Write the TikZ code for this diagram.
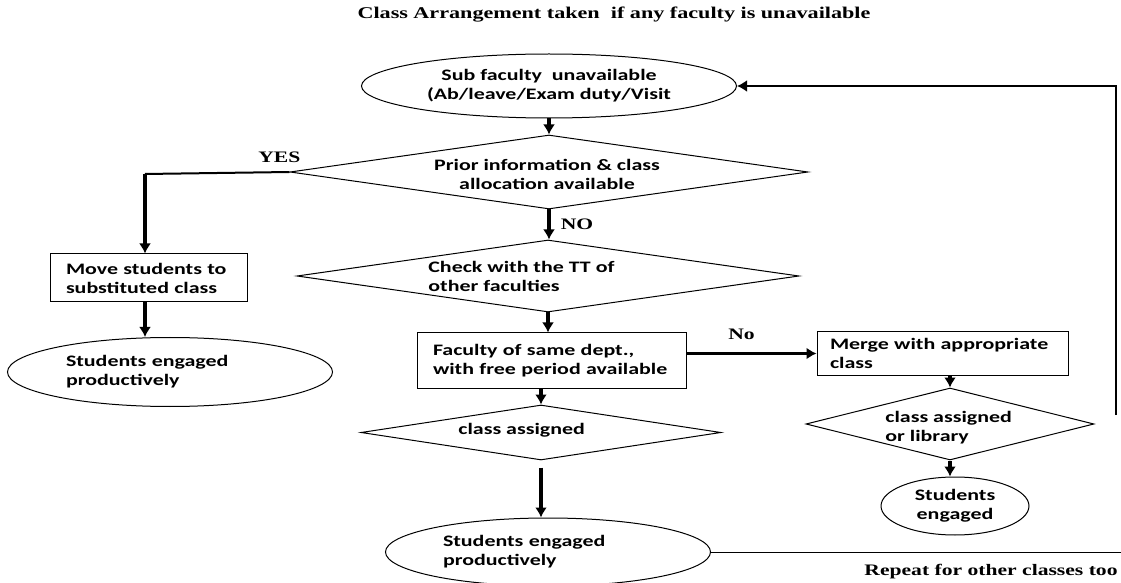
\documentclass[tikz,border=0pt]{standalone}
\usepackage{fontspec}
\setmainfont{Liberation Serif}[FakeStretch=1.35]
\newfontfamily\cajafont{Carlito}[FakeStretch=1.37]
\usetikzlibrary{shapes.geometric,arrows.meta}

\begin{document}
\begin{tikzpicture}[x=0.5pt,y=-0.5pt,
  >={Latex[length=5pt,width=6pt]},
  caja/.style={draw,line width=0.5pt,inner xsep=8pt,inner ysep=0pt,align=left,
    font=\cajafont\bfseries\fontsize{8}{9.5}\selectfont},
  elipse/.style={draw,ellipse,line width=0.5pt,inner sep=0pt,
    font=\cajafont\bfseries\fontsize{8}{9.5}\selectfont},
  rombo/.style={draw,diamond,line width=0.5pt,inner sep=0pt},
  texto/.style={inner sep=0pt,align=left,font=\cajafont\bfseries\fontsize{8}{9.5}\selectfont},
  nota/.style={inner sep=0pt,font=\bfseries\fontsize{8}{9}\selectfont},
  flecha/.style={->,line width=1.8pt}
  ]
  \useasboundingbox (0,0) rectangle (1121,583);

  \node[nota,font=\bfseries\fontsize{8.2}{9}\selectfont] (titulo) at (614,15)
    {Class Arrangement taken\ \ if any faculty is unavailable};

  % columna central
  \node[elipse,minimum width=187.5pt,minimum height=32pt,align=center] (sub) at (549,86)
    {Sub faculty\ \ unavailable\\(Ab/leave/Exam duty/Visit};
  \node[rombo,minimum width=259pt,minimum height=37pt] (prior) at (549,172) {};
  \node[texto,align=center] (priort) at (547,174) {Prior information \& class\\allocation available};
  \node[rombo,minimum width=251pt,minimum height=36pt] (tt) at (548,276) {};
  \node[texto,anchor=west] (ttt) at (428,276.5) {Check with the TT of\\other faculties};
  \node[caja,minimum height=27.5pt,text width=118.5pt] (fac) at (551.5,360.5)
    {Faculty of same dept.,\\with free period available};
  \node[rombo,minimum width=180pt,minimum height=27.5pt] (asig) at (541,432.5) {};
  \node[texto,anchor=west] (asigt) at (458,430) {class assigned};
  \node[elipse,minimum width=162.5pt,minimum height=34pt,text width=105pt,align=left] (prod2) at (548,552)
    {Students engaged\\productively};

  % rama YES
  \node[caja,minimum height=24pt,text width=82.5pt] (move) at (148.5,278)
    {Move students to\\substituted class};
  \node[elipse,minimum width=162.5pt,minimum height=34.5pt,text width=104pt,align=left] (prod1) at (170,372)
    {Students engaged\\productively};

  % rama No
  \node[caja,inner xsep=6.5pt,minimum height=21.5pt,text width=112.5pt] (merge) at (942.5,353.5)
    {Merge with appropriate\\class};
  \node[rombo,minimum width=144pt,minimum height=36pt] (lib) at (950,424) {};
  \node[texto,anchor=west] (libt) at (885,427.5) {class assigned\\or library};
  \node[elipse,minimum width=74pt,minimum height=29pt,align=center] (eng) at (955,506)
    {Students\\engaged};

  \coordinate (yes) at (145,174);
  \coordinate (vuelta) at (1116,415);
  \coordinate (borde) at (1121,552);

  \draw[flecha] (sub.south) -- (sub.south |- prior.north);
  \draw[line width=1pt] (prior.west) -- node[nota,pos=0.07,above=4pt] (si) {YES} (yes);
  \draw[flecha] (yes) -- (yes |- move.north);
  \draw[flecha] (yes |- move.south) -- (yes |- prod1.north);
  \draw[flecha] (prior.south) -- node[nota,right=5pt] (no) {NO} (prior.south |- tt.north);
  \draw[flecha] (tt.south) -- (tt.south |- fac.north);
  \draw[flecha] (asig.north |- fac.south) -- (asig.north);
  \draw[flecha,shorten <=3.5pt] (asig.south) -- (asig.south |- prod2.north);
  \draw[flecha] (fac.east |- merge.west) -- node[nota,above=6pt,xshift=-5pt] (no2) {No} (merge.west);
  \draw[flecha] (lib.north |- merge.south) -- (lib.north);
  \draw[flecha] (lib.south) -- (lib.south |- eng.north);
  \draw[->,line width=1pt] (vuelta) |- (sub.east);
  \draw[line width=0.5pt] (prod2.east) -- (borde);

  \node[nota] (repite) at (991,572) {Repeat for other classes too};

\end{tikzpicture}
\end{document}
